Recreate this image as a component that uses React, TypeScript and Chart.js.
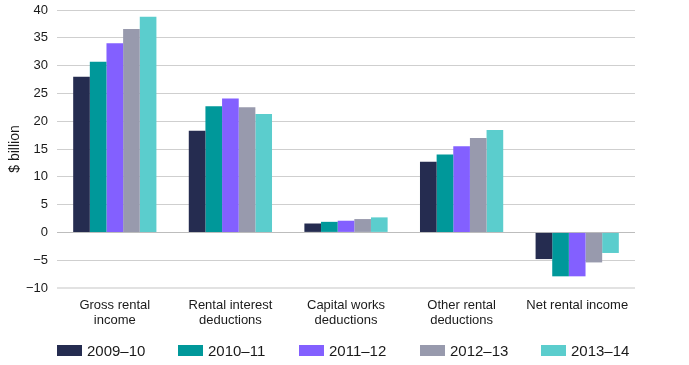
import React, { useEffect, useRef } from "react";
import { Chart, registerables } from "chart.js";

Chart.register(...registerables);

const categories: string[][] = [
  ["Gross rental", "income"],
  ["Rental interest", "deductions"],
  ["Capital works", "deductions"],
  ["Other rental", "deductions"],
  ["Net rental income"],
];

const seriesLabels = ["2009–10", "2010–11", "2011–12", "2012–13", "2013–14"];
const seriesColors = ["#252C50", "#00989A", "#8360FF", "#989AAD", "#5BCDCD"];

const y2009_10 = [28.0, 18.3, 1.6, 12.7, -4.8];
const y2010_11 = [30.7, 22.7, 1.9, 14.0, -7.9];
const y2011_12 = [34.0, 24.1, 2.1, 15.5, -7.9];
const y2012_13 = [36.6, 22.5, 2.4, 17.0, -5.4];
const y2013_14 = [38.8, 21.3, 2.7, 18.4, -3.7];

const seriesValues = [y2009_10, y2010_11, y2011_12, y2012_13, y2013_14];

const yMin = -10;
const yMax = 40;
const yStep = 5;
const yTitle = "$ billion";

const SANS = "'Liberation Sans', Arial, Helvetica, sans-serif";
const NARROW = "'Liberation Sans Narrow', 'Arial Narrow', 'Liberation Sans', Arial, sans-serif";

export default function App() {
  const canvasRef = useRef<HTMLCanvasElement | null>(null);

  useEffect(() => {
    document.body.style.margin = "0";
    const canvas = canvasRef.current;
    if (!canvas) return;
    const chart = new Chart(canvas, {
      type: "bar",
      data: {
        labels: categories,
        datasets: seriesLabels.map((label, i) => ({
          label,
          data: seriesValues[i],
          backgroundColor: seriesColors[i],
          borderWidth: 0,
          categoryPercentage: 0.72,
          barPercentage: 1.0,
        })),
      },
      options: {
        responsive: false,
        animation: false,
        layout: { padding: { left: 0, right: 54, top: 10, bottom: 0 } },
        plugins: {
          legend: { display: false },
          tooltip: { enabled: false },
        },
        scales: {
          x: {
            grid: { display: false, drawTicks: false },
            border: { display: false },
            ticks: {
              color: "#1a1a1a",
              padding: 9,
              maxRotation: 0,
              autoSkip: false,
              font: { family: NARROW, size: 13, lineHeight: 1.22 },
            },
            afterFit: (scale: any) => {
              scale.height = 77;
            },
          },
          y: {
            min: yMin,
            max: yMax,
            border: { display: false },
            grid: {
              drawTicks: false,
              color: (ctx: any) => {
                const v = ctx.tick ? ctx.tick.value : null;
                if (v === 0) return "#bdbdbd";
                if (v === yMin) return "#e2e2e2";
                return "#cfcfcf";
              },
              lineWidth: (ctx: any) => {
                const v = ctx.tick ? ctx.tick.value : null;
                if (v === yMin) return 2;
                return 1;
              },
            },
            ticks: {
              stepSize: yStep,
              color: "#1a1a1a",
              padding: 9,
              font: { family: SANS, size: 13 },
              callback: (v: any) => String(v).replace("-", "\u2212"),
            },
            title: {
              display: true,
              text: yTitle,
              color: "#1a1a1a",
              font: { family: SANS, size: 14, lineHeight: 1.2 },
              padding: { top: 7, bottom: 0 },
            },
            afterFit: (scale: any) => {
              scale.width = 57;
              scale.paddingTop = 0;
              scale.paddingBottom = 0;
            },
          },
        },
      },
    });
    return () => chart.destroy();
  }, []);

  return (
    <div style={{ position: "relative", width: 689, height: 365 }}>
      <canvas ref={canvasRef} width={689} height={365} style={{ display: "block" }} />
      {seriesLabels.map((label, i) => (
        <div
          key={label}
          style={{
            position: "absolute",
            left: 57 + i * 121,
            top: 341,
            height: 19,
            display: "flex",
            alignItems: "center",
            fontFamily: SANS,
            fontSize: 15,
            color: "#1a1a1a",
            whiteSpace: "nowrap",
          }}
        >
          <span
            style={{
              display: "inline-block",
              width: 25,
              height: 11,
              background: seriesColors[i],
              marginRight: 5,
            }}
          />
          <span>{label}</span>
        </div>
      ))}
    </div>
  );
}
